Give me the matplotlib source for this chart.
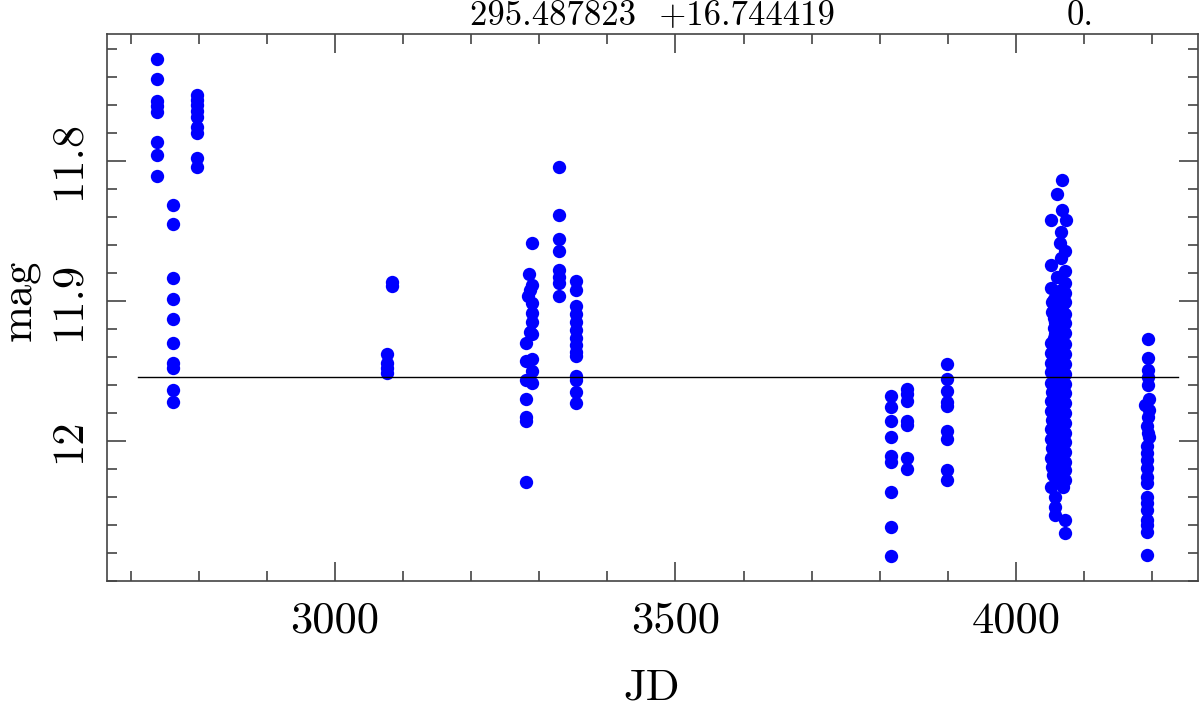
import matplotlib
matplotlib.use("Agg")
import matplotlib.pyplot as plt
from matplotlib.ticker import MultipleLocator

plt.rcParams['font.family'] = ['cmr10', 'DejaVu Serif']
plt.rcParams['axes.formatter.use_mathtext'] = True

# photometry points (JD - 2450000, mag), grouped by observing run
run1 = [(2738, 11.7274), (2738, 11.7416), (2738, 11.7571), (2738, 11.7607), (2738, 11.7648),
        (2738, 11.7862), (2738, 11.7957), (2738, 11.8107),
        (2762, 11.8314), (2762, 11.8450), (2762, 11.8838), (2762, 11.8988), (2762, 11.9131),
        (2762, 11.9298), (2762, 11.9441), (2762, 11.9481), (2762, 11.9636), (2762, 11.9719),
        (2798, 11.7529), (2798, 11.7564), (2798, 11.7600), (2798, 11.7641), (2798, 11.7684),
        (2798, 11.7755), (2798, 11.7798), (2798, 11.7981), (2798, 11.8041)]

run2 = [(3083, 11.8862), (3083, 11.8893),
        (3077, 11.9379), (3077, 11.9445), (3077, 11.9481), (3077, 11.9512)]

run3 = [(3289, 11.8584), (3285, 11.8807), (3289, 11.8886), (3286, 11.8921), (3284, 11.8964),
        (3289, 11.9017), (3289, 11.9088), (3289, 11.9152), (3286, 11.9219), (3289, 11.9238),
        (3281, 11.9302), (3281, 11.9429), (3290, 11.9414), (3289, 11.9500), (3281, 11.9564),
        (3289, 11.9584), (3281, 11.9702), (3281, 11.9826), (3281, 11.9855), (3281, 12.0295),
        (3329, 11.8041), (3329, 11.8386), (3329, 11.8559), (3329, 11.8643), (3329, 11.8779),
        (3329, 11.8826), (3329, 11.8874), (3329, 11.8962),
        (3354, 11.8857), (3354, 11.8921), (3354, 11.9033), (3354, 11.9095), (3354, 11.9148),
        (3354, 11.9207), (3354, 11.9267), (3354, 11.9314), (3354, 11.9362), (3354, 11.9393),
        (3354, 11.9533), (3354, 11.9564), (3354, 11.9648), (3354, 11.9731)]

run4 = [(3816, 11.9679), (3816, 11.9755), (3816, 11.9857), (3816, 11.9969), (3816, 12.0107),
        (3816, 12.0148), (3816, 12.0364), (3816, 12.0617), (3816, 12.0819),
        (3840, 11.9631), (3840, 11.9664), (3840, 11.9714), (3840, 11.9857), (3840, 11.9886),
        (3840, 12.0119), (3840, 12.0200),
        (3899, 11.9452), (3899, 11.9559), (3899, 11.9643), (3899, 11.9724), (3899, 11.9748),
        (3899, 11.9929), (3899, 11.9986), (3899, 12.0207), (3899, 12.0279)]

run5 = [(4051, 11.8421), (4051, 11.8743), (4051, 11.8909), (4053, 11.9005), (4053, 11.9080),
        (4057, 11.9150), (4057, 11.9235), (4051, 11.9300), (4052, 11.9372), (4052, 11.9440),
        (4052, 11.9510), (4052, 11.9585), (4053, 11.9650), (4052, 11.9712), (4052, 11.9788),
        (4053, 11.9850), (4051, 11.9915), (4052, 11.9985), (4053, 12.0050), (4052, 12.0120),
        (4053, 12.0185), (4054, 12.0240), (4052, 12.0326),
        (4056, 11.8985), (4056, 11.9055), (4056, 11.9125), (4056, 11.9195), (4056, 11.9265),
        (4056, 11.9335), (4056, 11.9405), (4056, 11.9475), (4056, 11.9545), (4056, 11.9615),
        (4056, 11.9685), (4056, 11.9755), (4056, 11.9825), (4056, 11.9895), (4056, 11.9965),
        (4056, 12.0035), (4056, 12.0105), (4056, 12.0175), (4056, 12.0245),
        (4060, 11.8236), (4060, 11.8826), (4059, 11.8960), (4059, 11.9030), (4059, 11.9110),
        (4059, 11.9170), (4059, 11.9260), (4059, 11.9320), (4059, 11.9400), (4059, 11.9465),
        (4059, 11.9530), (4059, 11.9600), (4059, 11.9670), (4059, 11.9740), (4059, 11.9810),
        (4059, 11.9880), (4059, 11.9950), (4059, 12.0020), (4059, 12.0090), (4059, 12.0160),
        (4059, 12.0230), (4059, 12.0280), (4057, 12.0398), (4057, 12.0469), (4057, 12.0529),
        (4067, 11.8136), (4067, 11.8350), (4066, 11.8505), (4064, 11.8584), (4066, 11.8695),
        (4066, 11.8920), (4066, 11.8990), (4066, 11.9060), (4066, 11.9130), (4066, 11.9200),
        (4066, 11.9280), (4066, 11.9350), (4066, 11.9420), (4066, 11.9490), (4066, 11.9560),
        (4066, 11.9630), (4066, 11.9700), (4066, 11.9770), (4066, 11.9840), (4066, 11.9910),
        (4066, 11.9980), (4066, 12.0050), (4066, 12.0120), (4066, 12.0190), (4066, 12.0260),
        (4069, 12.0326),
        (4069, 11.8955), (4069, 11.9025), (4069, 11.9095), (4069, 11.9165), (4069, 11.9235),
        (4069, 11.9305), (4069, 11.9375), (4069, 11.9445), (4069, 11.9515), (4069, 11.9585),
        (4069, 11.9655), (4069, 11.9725), (4069, 11.9795), (4069, 11.9865), (4069, 11.9935),
        (4069, 12.0005), (4069, 12.0075), (4069, 12.0145), (4069, 12.0215),
        (4073, 11.8421), (4072, 11.8641), (4072, 11.8786), (4072, 11.8874), (4072, 11.8940),
        (4072, 11.9010), (4072, 11.9090), (4072, 11.9160), (4072, 11.9230), (4072, 11.9310),
        (4072, 11.9380), (4072, 11.9450), (4072, 11.9520), (4072, 11.9590), (4072, 11.9660),
        (4072, 11.9730), (4072, 11.9800), (4072, 11.9870), (4072, 11.9940), (4072, 12.0010),
        (4072, 12.0080), (4072, 12.0150), (4072, 12.0210), (4072, 12.0280), (4072, 12.0564),
        (4072, 12.0655)]

run6 = [(4194, 11.9274), (4194, 11.9409), (4194, 11.9493), (4194, 11.9541), (4194, 11.9600),
        (4195, 11.9700), (4189, 11.9743), (4196, 11.9779), (4194, 11.9826), (4192, 11.9893),
        (4194, 11.9945), (4196, 11.9969), (4192, 12.0036), (4193, 12.0088), (4193, 12.0136),
        (4193, 12.0195), (4193, 12.0255), (4193, 12.0302), (4193, 12.0398), (4193, 12.0445),
        (4193, 12.0493), (4193, 12.0564), (4193, 12.0600), (4193, 12.0648), (4193, 12.0814)]

mean_mag = 11.954
mean_jd_range = [2710, 4238]

x_ticks = [3000, 3500, 4000]
y_ticks = [11.8, 11.9, 12.0]
y_ticklabels = ["11.8", "11.9", "12"]

title_left = "295.487823  +16.744419"
title_right = "0."


points = run1 + run2 + run3 + run4 + run5 + run6
jd = [p[0] for p in points]
mag = [p[1] for p in points]

fig = plt.figure(figsize=(12, 7.11), dpi=100)
ax = fig.add_axes([107/1200, 130/711, 1091/1200, 547/711])

ax.plot(jd, mag, 'o', color='#0000ff', ms=9.6, mec='none')
ax.plot(mean_jd_range, [mean_mag, mean_mag], color='black', lw=1)

ax.set_xlim(2665.2, 4267.3)
ax.set_ylim(12.1, 11.7093)

ax.set_xticks(x_ticks)
ax.set_xticklabels([str(t) for t in x_ticks])
ax.xaxis.set_minor_locator(MultipleLocator(100))
ax.set_yticks(y_ticks)
ax.set_yticklabels(y_ticklabels, rotation=90, va='center')
ax.yaxis.set_minor_locator(MultipleLocator(0.02))

ax.tick_params(which='both', direction='in', top=True, right=True, color='#444444',
               width=1.2, labelsize=32)
ax.tick_params(which='major', length=13.7)
ax.tick_params(which='minor', length=7.2)
ax.tick_params(axis='x', pad=14.4)
ax.tick_params(axis='y', pad=13)
for s in ax.spines.values():
    s.set_color('#444444')
    s.set_linewidth(1.2)

fig.text(652/1200, 1 - 25/711, title_left, ha='center', va='baseline', fontsize=25)
fig.text(1080/1200, 1 - 25/711, title_right, ha='center', va='baseline', fontsize=25)
fig.text(652/1200, 11/711, "JD", ha='center', va='baseline', fontsize=32)
fig.text(20/1200, 1 - 300/711, "mag", rotation=90, ha='center', va='center', fontsize=32)

fig.savefig("out.png", dpi=100)
